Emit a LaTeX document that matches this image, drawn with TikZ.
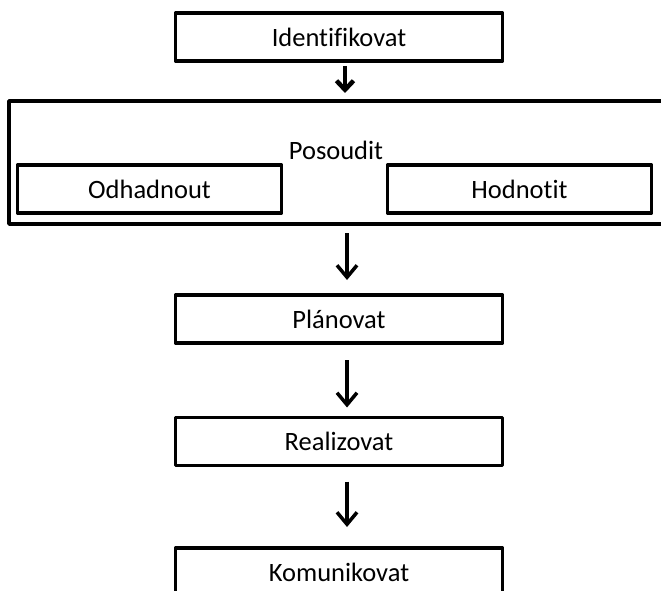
\documentclass[tikz,border=0pt]{standalone}
\usepackage{fontspec}
\setmainfont{Carlito}[Ligatures=CommonOff]
\usetikzlibrary{arrows.meta}
\begin{document}
\begin{tikzpicture}[x=1pt, y=-1pt, line join=round,
  box/.style={draw, line width=3.5pt, inner sep=0pt, outer sep=0pt, minimum width=327pt, minimum height=48pt, font=\fontsize{26.5}{30}\selectfont},
  subbox/.style={box, minimum width=264pt},
  smallarrow/.style={line width=4.5pt, -{Straight Barb[length=9pt, width=17pt, line width=4.5pt]}},
  bigarrow/.style={line width=3.5pt, -{Straight Barb[length=12pt, width=20pt, line width=3.5pt]}}]
\useasboundingbox (0,0) rectangle (661,591);
\node[box] (ident) at (339,37) {Identifikovat};
\node[box, minimum width=664pt, minimum height=123pt] (assess) at (341,162.5) {};
\node[font=\fontsize{26.5}{30}\selectfont, inner sep=0pt] (assesslabel) at (336,150) {Posoudit};
\node[subbox] (estimate) at (149.5,189) {Odhadnout};
\node[subbox] (evaluate) at (519.5,189) {Hodnotit};
\node[box] (plan) at (339,319) {Plánovat};
\node[box] (realize) at (339,441.5) {Realizovat};
\node[box] (communicate) at (339,572) {Komunikovat};
\draw[smallarrow, shorten <=5pt, shorten >=8pt] ([xshift=6pt]ident.south) -- ([xshift=6pt]ident.south |- assess.north);
\draw[bigarrow, shorten <=9pt, shorten >=15pt] ([xshift=8pt]plan.north |- assess.south) -- ([xshift=8pt]plan.north);
\draw[bigarrow, shorten <=17pt, shorten >=10pt] ([xshift=8pt]plan.south) -- ([xshift=8pt]realize.north);
\draw[bigarrow, shorten <=16pt, shorten >=21pt] ([xshift=8pt]realize.south) -- ([xshift=8pt]communicate.north);
\end{tikzpicture}
\end{document}
